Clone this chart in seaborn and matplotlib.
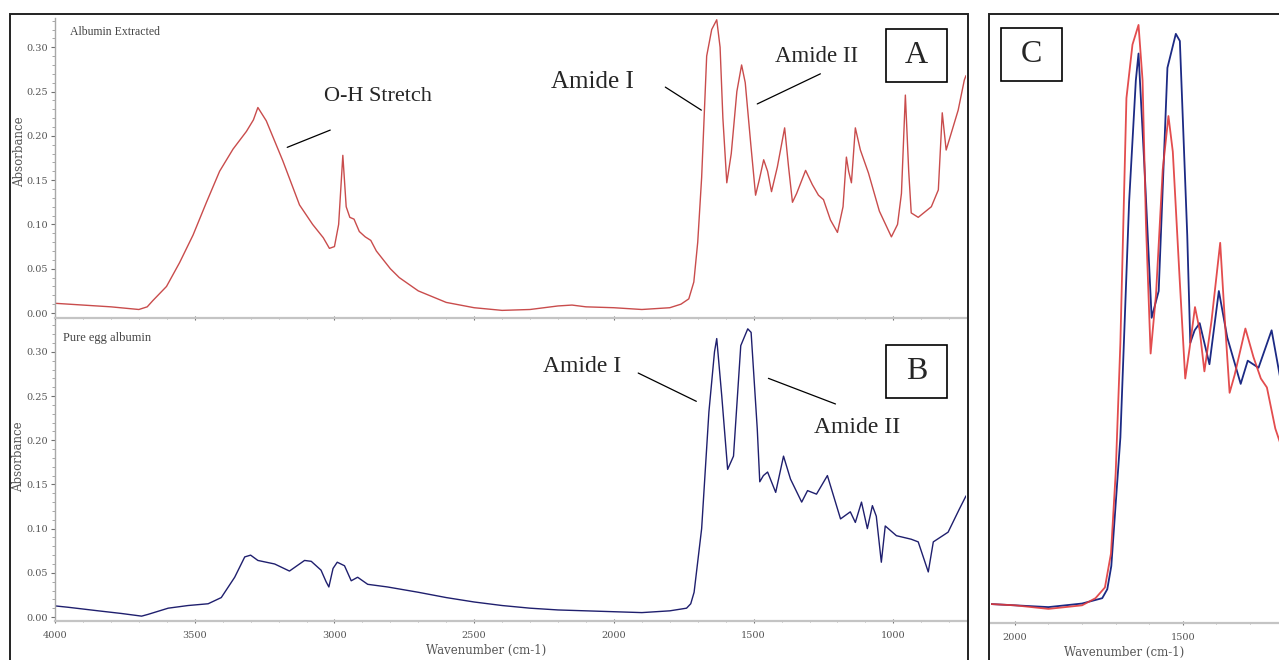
import matplotlib
matplotlib.use("Agg")
import matplotlib.pyplot as plt
import matplotlib.patches as mpatches
from matplotlib.ticker import MultipleLocator, FormatStrFormatter
import seaborn as sns
import pandas as pd

# ---------------- data ----------------
extracted_wn = [4000, 3900, 3800, 3700, 3670, 3650, 3601, 3554, 3506, 3458, 3411, 3363, 3315, 3290,
                3274, 3244, 3185, 3125, 3078, 3040, 3018, 3000, 2985, 2970, 2958, 2945, 2930, 2911,
                2890, 2870, 2850, 2800, 2768, 2700, 2600, 2500, 2400, 2300, 2200, 2150, 2100, 2000,
                1900, 1800, 1760, 1732, 1714, 1700, 1686, 1668, 1650, 1632, 1620, 1610, 1596, 1580,
                1560, 1543, 1530, 1510, 1493, 1480, 1464, 1450, 1436, 1415, 1389, 1375, 1361, 1346,
                1314, 1290, 1268, 1250, 1225, 1200, 1180, 1168, 1160, 1150, 1136, 1118, 1089, 1050,
                1007, 985, 971, 957, 945, 936, 911, 864, 839, 825, 811, 768, 746, 740]
extracted_abs = [0.011, 0.009, 0.007, 0.004, 0.007, 0.014, 0.030, 0.057, 0.088, 0.125, 0.160, 0.185,
                 0.205, 0.218, 0.232, 0.217, 0.172, 0.122, 0.100, 0.085, 0.073, 0.075, 0.100, 0.178,
                 0.120, 0.108, 0.106, 0.092, 0.086, 0.082, 0.070, 0.050, 0.040, 0.025, 0.012, 0.006,
                 0.003, 0.004, 0.008, 0.009, 0.007, 0.006, 0.004, 0.006, 0.010, 0.016, 0.035, 0.080,
                 0.153, 0.290, 0.320, 0.331, 0.300, 0.220, 0.147, 0.180, 0.250, 0.280, 0.260, 0.190,
                 0.133, 0.150, 0.173, 0.160, 0.137, 0.165, 0.209, 0.165, 0.125, 0.135, 0.161, 0.145,
                 0.133, 0.128, 0.105, 0.091, 0.120, 0.176, 0.160, 0.147, 0.209, 0.184, 0.158, 0.115,
                 0.086, 0.100, 0.135, 0.246, 0.160, 0.113, 0.108, 0.120, 0.139, 0.226, 0.184, 0.229,
                 0.263, 0.268]

pure_wn = [4000, 3952, 3845, 3762, 3690, 3667, 3595, 3524, 3452, 3405, 3357, 3321, 3300, 3274, 3214,
           3161, 3107, 3083, 3048, 3030, 3020, 3005, 2990, 2964, 2940, 2917, 2881, 2810, 2700, 2600,
           2500, 2400, 2300, 2200, 2100, 2000, 1900, 1800, 1740, 1725, 1713, 1686, 1660, 1640, 1632,
           1614, 1593, 1572, 1546, 1521, 1509, 1487, 1478, 1465, 1450, 1421, 1393, 1368, 1328, 1307,
           1275, 1236, 1189, 1154, 1136, 1114, 1093, 1075, 1061, 1043, 1029, 989, 936, 911, 875, 857,
           804, 764, 740]
pure_abs = [0.0126, 0.011, 0.007, 0.004, 0.001, 0.003, 0.010, 0.013, 0.015, 0.022, 0.045, 0.068,
            0.070, 0.064, 0.060, 0.052, 0.064, 0.063, 0.053, 0.040, 0.034, 0.055, 0.062, 0.058,
            0.041, 0.045, 0.037, 0.034, 0.028, 0.022, 0.017, 0.013, 0.010, 0.008, 0.007, 0.006,
            0.005, 0.007, 0.010, 0.015, 0.028, 0.100, 0.232, 0.300, 0.315, 0.250, 0.167, 0.182,
            0.307, 0.326, 0.322, 0.213, 0.153, 0.160, 0.164, 0.141, 0.182, 0.156, 0.130, 0.143,
            0.139, 0.160, 0.111, 0.119, 0.107, 0.130, 0.100, 0.126, 0.114, 0.062, 0.103, 0.092,
            0.088, 0.085, 0.051, 0.085, 0.096, 0.122, 0.137]

panel_titles = ["Albumin Extracted", "Pure egg albumin"]
y_ticks = [0.00, 0.05, 0.10, 0.15, 0.20, 0.25, 0.30]
x_ticks_main = [4000, 3500, 3000, 2500, 2000, 1500, 1000]
x_ticks_c = [2000, 1500]
x_label = "Wavenumber (cm-1)"
y_label = "Absorbance"

df_ext = pd.DataFrame({"wn": extracted_wn, "abs": extracted_abs})
df_pure = pd.DataFrame({"wn": pure_wn, "abs": pure_abs})

# ---------------- figure ----------------
sns.set_style("white")
plt.rcParams["font.family"] = ["DejaVu Sans"]

W, H = 1279, 660
fig = plt.figure(figsize=(W / 100, H / 100), dpi=100)


def rect(l, t, r, b):
    return [l / W, 1 - b / H, (r - l) / W, (b - t) / H]


def fx(px):
    return px / W


def fy(py):
    return 1 - py / H


axA = fig.add_axes(rect(55, 18, 966, 318))
axB = fig.add_axes(rect(55, 320, 966, 621))
axC = fig.add_axes(rect(991, 16, 1279, 623))

RED = "#c94c4c"
BLUE = "#1f1f6e"
TICKC = "#707070"

sns.lineplot(data=df_ext, x="wn", y="abs", ax=axA, color=RED, linewidth=1.0,
             estimator=None, sort=True)
sns.lineplot(data=df_pure, x="wn", y="abs", ax=axB, color=BLUE, linewidth=1.0,
             estimator=None, sort=True)
sns.lineplot(data=df_pure, x="wn", y="abs", ax=axC, color="#1c2a84", linewidth=1.3,
             estimator=None, sort=True)
sns.lineplot(data=df_ext, x="wn", y="abs", ax=axC, color="#e0393b", linewidth=1.3,
             estimator=None, sort=True, alpha=0.9)

axA.set_xlim(4000, 740)
axB.set_xlim(4000, 740)
axA.set_ylim(-0.0056, 0.333)
axB.set_ylim(-0.0045, 0.336)
axC.set_xlim(2071, 1214)
axC.set_ylim(-0.0039, 0.336)

for ax in (axA, axB, axC):
    ax.set_facecolor("none")
    for s in ("top", "right"):
        ax.spines[s].set_visible(False)
    ax.spines["bottom"].set_color("#c4c4c4")
    ax.spines["bottom"].set_linewidth(1.6)
    ax.spines["left"].set_color("#a8a8a8")
    ax.spines["left"].set_linewidth(1.0)
    ax.set_xlabel("")
    ax.set_ylabel("")
    ax.xaxis.set_major_locator(MultipleLocator(500))
    ax.xaxis.set_minor_locator(MultipleLocator(100))
    ax.tick_params(axis="both", which="major", length=3, width=0.8, color=TICKC,
                   labelsize=7, labelcolor="#555555", pad=2)
    ax.tick_params(axis="x", which="major", pad=6)
    ax.tick_params(axis="both", which="minor", length=2, width=0.6, color="#999999")
    ax.tick_params(axis="x", which="both", bottom=True, direction="inout")

for ax in (axA, axB):
    ax.set_yticks(y_ticks)
    ax.yaxis.set_major_formatter(FormatStrFormatter("%.2f"))
    ax.yaxis.set_minor_locator(MultipleLocator(0.01))
    ax.tick_params(axis="y", which="both", left=True)
    ax.set_ylabel(y_label, fontsize=8.5, color="#555555", family="DejaVu Serif")

axA.set_xticks(x_ticks_main)
axA.tick_params(axis="x", labelbottom=False)
axB.set_xticks(x_ticks_main)
axA.yaxis.set_label_coords((26 - 55) / 911, (318 - 152) / 300)
axB.yaxis.set_label_coords((25 - 55) / 911, (621 - 457) / 301)

axB.set_xlabel(x_label, fontsize=8.5, color="#555555", family="DejaVu Serif", labelpad=0)
axB.xaxis.set_label_coords((486 - 55) / 911, (621 - 644) / 301)

axC.spines["left"].set_visible(False)
axC.set_yticks([])
axC.set_xticks(x_ticks_c)
axC.set_xlabel(x_label, fontsize=8.5, color="#555555", family="DejaVu Serif")
axC.xaxis.set_label_coords((1124 - 991) / 288, (623 - 646) / 607)

for ax in (axA, axB, axC):
    for lab in ax.get_xticklabels() + ax.get_yticklabels():
        lab.set_family("DejaVu Serif")

# panel titles
axA.text((70 - 55) / 911, (318 - 32) / 300, panel_titles[0], transform=axA.transAxes,
         fontsize=8.5, color="#444444", family="Liberation Serif", va="center", ha="left")
axB.text((63 - 55) / 911, (621 - 338) / 301, panel_titles[1], transform=axB.transAxes,
         fontsize=9, color="#444444", family="Liberation Serif", va="center", ha="left")

# annotations
SERIF = "Liberation Serif"


def leader(ax, p0, p1):
    ax.annotate("", xy=p1, xytext=p0,
                arrowprops=dict(arrowstyle="-", color="black", lw=0.9,
                                shrinkA=0, shrinkB=0))


axA.text(2843, 0.244, "O-H Stretch", fontsize=16, family=SERIF, ha="center", va="center")
leader(axA, (3015, 0.2065), (3169, 0.187))
axA.text(2077, 0.261, "Amide I", fontsize=18, family=SERIF, ha="center", va="center")
leader(axA, (1816, 0.255), (1687, 0.229))
axA.text(1275, 0.290, "Amide II", fontsize=16.5, family=SERIF, ha="center", va="center")
leader(axA, (1261, 0.270), (1487, 0.236))

axB.text(2113, 0.283, "Amide I", fontsize=17, family=SERIF, ha="center", va="center")
leader(axB, (1913, 0.276), (1705, 0.244))
axB.text(1129, 0.214, "Amide II", fontsize=17, family=SERIF, ha="center", va="center")
leader(axB, (1447, 0.270), (1207, 0.241))

# outer frames
fig.add_artist(mpatches.Rectangle((fx(10), fy(680)), fx(968) - fx(10), fy(14) - fy(680),
                                  transform=fig.transFigure, fill=False,
                                  edgecolor="#222222", linewidth=1.4, clip_on=False))
fig.add_artist(mpatches.Rectangle((fx(989), fy(680)), fx(1300) - fx(989), fy(14) - fy(680),
                                  transform=fig.transFigure, fill=False,
                                  edgecolor="#222222", linewidth=1.4, clip_on=False))

# letter boxes
for (l, t, r, b, letter) in [(886, 29, 947, 82, "A"), (886, 345, 947, 398, "B"),
                             (1001, 28, 1062, 81, "C")]:
    fig.add_artist(mpatches.Rectangle((fx(l), fy(b)), fx(r) - fx(l), fy(t) - fy(b),
                                      transform=fig.transFigure, fill=True, facecolor="white",
                                      edgecolor="black", linewidth=1.2))
    fig.text(fx((l + r) / 2), fy((t + b) / 2), letter, fontsize=23, family=SERIF,
             ha="center", va="center")

fig.savefig("out.png", dpi=100)
